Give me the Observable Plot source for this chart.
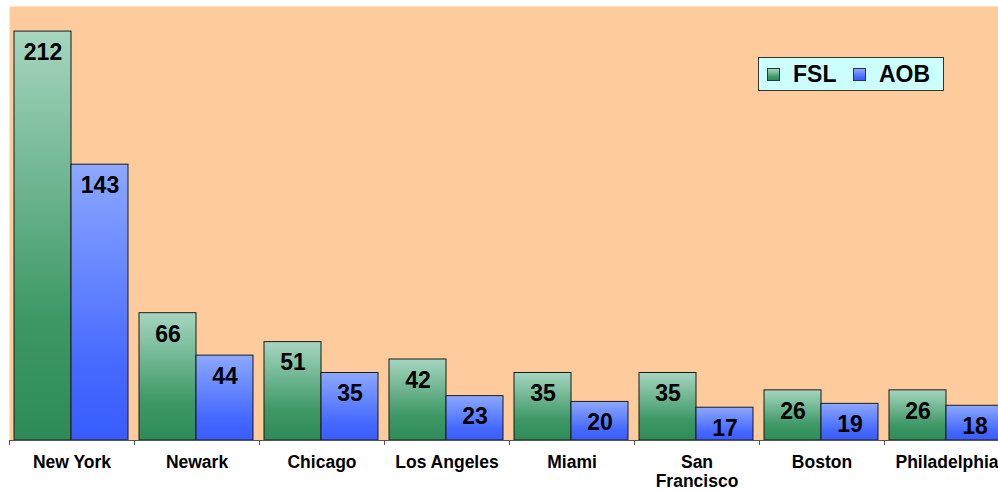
<!DOCTYPE html>
<html><head><meta charset="utf-8">
<script src="https://cdn.jsdelivr.net/npm/d3@7"></script>
<script src="https://cdn.jsdelivr.net/npm/@observablehq/plot@0.6"></script>
<style>
html,body{margin:0;padding:0;background:#fff;overflow:hidden;}
#wrap{position:relative;width:998px;height:491px;overflow:hidden;}
.legend{position:absolute;left:758px;top:57px;width:184px;height:32px;background:#CCFFFF;border:1px solid #333;
  font-family:"Liberation Sans",Arial,sans-serif;font-weight:bold;font-size:23px;color:#000;}
.legend .sw{position:absolute;top:10px;width:13px;height:13px;border:1px solid #333;box-sizing:border-box;}
.legend .lb{position:absolute;top:4px;line-height:25px;}
</style></head><body><div id="wrap"></div>
<script>
const cities = ["New York","Newark","Chicago","Los Angeles","Miami","San Francisco","Boston","Philadelphia"];
const cityLabels = ["New York","Newark","Chicago","Los Angeles","Miami","San\nFrancisco","Boston","Philadelphia"];
const series = ["FSL","AOB"];
const fsl = [212,66,51,42,35,35,26,26];
const aob = [143,44,35,23,20,17,19,18];

const data = cities.flatMap((c,i)=>[{city:c,series:"FSL",value:fsl[i]},{city:c,series:"AOB",value:aob[i]}]);
const gradStops = {
  FSL: [[0,"#A6D6C0"],[0.7,"#3D9866"],[1,"#2E8B57"]],
  AOB: [[0,"#8CA8FF"],[0.75,"#4468FF"],[1,"#3A5CFF"]]
};

const defs = () => {
  const d = d3.create("svg:defs");
  for (const s of series) {
    const g = d.append("linearGradient").attr("id","grad"+s).attr("x1",0).attr("y1",0).attr("x2",0).attr("y2",1);
    gradStops[s].forEach(([o,c])=>g.append("stop").attr("offset",o).attr("stop-color",c));
  }
  return d.node();
};

const fslData = data.filter(d=>d.series==="FSL");
const aobData = data.filter(d=>d.series==="AOB");

const chart = Plot.plot({
  width: 998, height: 491,
  marginLeft: 9, marginRight: 0, marginTop: 6, marginBottom: 51,
  style: {fontFamily: "Liberation Sans, Arial, sans-serif", background: "transparent", overflow: "hidden"},
  x: {domain: cities, range: [9, 1009], padding: 0, label: null},
  y: {domain: [0, 225], axis: null},
  marks: [
    defs,
    Plot.frame({fill: "#FDCB9C", stroke: "none"}),
    Plot.barY(fslData, {x:"city", y:"value", fill:"url(#gradFSL)", stroke:"#1a1a1a", strokeWidth:1, insetLeft:5, insetRight:63}),
    Plot.barY(aobData, {x:"city", y:"value", fill:"url(#gradAOB)", stroke:"#1a1a1a", strokeWidth:1, insetLeft:62, insetRight:6}),
    Plot.text(fslData, {x:"city", y:"value", text:"value", dx:-29, dy:12, lineAnchor:"top", fontSize:23, fontWeight:"bold", fill:"#000"}),
    Plot.text(aobData, {x:"city", y:"value", text:"value", dx:28, dy:12, lineAnchor:"top", fontSize:23, fontWeight:"bold", fill:"#000"}),
    Plot.ruleY([0], {stroke:"#555"}),
    Plot.axisX({tickSize:5, tickFormat:()=>"", dx:-62.5, stroke:"#555"}),
    Plot.axisX({tickSize:0, tickPadding:14, tickFormat:(d)=>cityLabels[cities.indexOf(d)], fontSize:17.5, fontWeight:"bold", lineHeight:1.08, fill:"#000"})
  ]
});
const wrap = document.getElementById("wrap");
wrap.appendChild(chart);

const legend = document.createElement("div");
legend.className = "legend";
const swCss = s => "linear-gradient(to bottom," + gradStops[s].map(([o,c])=>c+" "+(o*100)+"%").join(",") + ")";
const pos = [[8,34],[94,120]];
series.forEach((s,i)=>{
  const sw = document.createElement("span");
  sw.className = "sw"; sw.style.left = pos[i][0]+"px"; sw.style.background = swCss(s);
  const lb = document.createElement("span");
  lb.className = "lb"; lb.style.left = pos[i][1]+"px"; lb.textContent = s;
  legend.appendChild(sw); legend.appendChild(lb);
});
wrap.appendChild(legend);
</script>
</body></html>
